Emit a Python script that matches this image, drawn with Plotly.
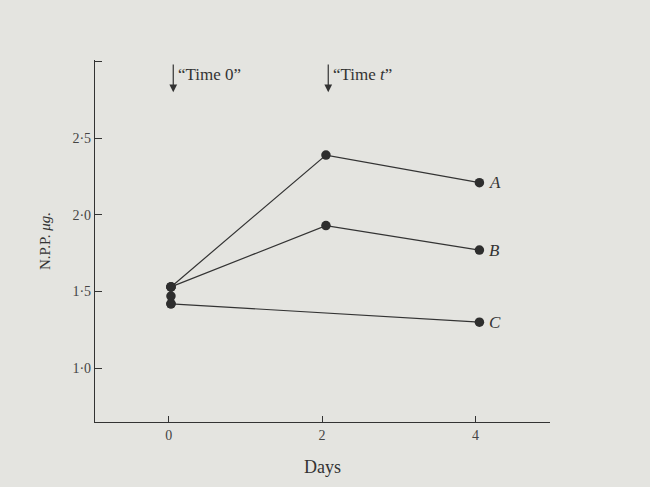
import plotly.graph_objects as go

# ---- data ----
days = [0.03, 2.05, 4.05]
series_A = [1.53, 2.39, 2.21]
series_B = [1.53, 1.93, 1.77]
days_C = [0.03, 4.05]
series_C = [1.42, 1.30]
t0_days = [0.03, 0.03, 0.03]
t0_values = [1.53, 1.47, 1.42]
labels = ["A", "B", "C"]
label_values = [2.21, 1.77, 1.30]
y_ticks = [1.0, 1.5, 2.0, 2.5, 3.0]
y_ticktext = ["1·0", "1·5", "2·0", "2·5", ""]
x_ticks = [0, 2, 4]
x_ticktext = ["0", "2", "4"]
time_marks = [0.06, 2.08]
time_texts = ["“Time 0”", "“Time <i>t</i>”"]

ink = "#333333"
paper = "#e4e4e0"
serif = "Liberation Serif, DejaVu Serif, serif"

fig = go.Figure()
line_style = dict(color=ink, width=1.2)
mk = dict(color="#2e2e2e", size=9.5)
fig.add_trace(go.Scatter(x=days, y=series_A, mode="lines+markers", line=line_style, marker=mk))
fig.add_trace(go.Scatter(x=days, y=series_B, mode="lines+markers", line=line_style, marker=mk))
fig.add_trace(go.Scatter(x=days_C, y=series_C, mode="lines+markers", line=line_style, marker=mk))
fig.add_trace(go.Scatter(x=t0_days, y=t0_values, mode="markers", marker=mk))

for lab, v in zip(labels, label_values):
    fig.add_annotation(x=days[-1], y=v, text=f"<i>{lab}</i>", showarrow=False,
                       xanchor="left", xshift=8, font=dict(family=serif, size=17, color=ink))

for xm, txt in zip(time_marks, time_texts):
    fig.add_annotation(x=xm, y=2.80, ax=xm, ay=2.99, xref="x", yref="y", axref="x", ayref="y",
                       showarrow=True, arrowhead=2, arrowsize=1.3, arrowwidth=1.2, arrowcolor=ink, text="")
    fig.add_annotation(x=xm, y=2.915, text=txt, showarrow=False, xanchor="left", xshift=3,
                       font=dict(family=serif, size=17, color=ink))

fig.update_layout(
    width=650, height=487,
    margin=dict(l=95, r=100, t=60, b=65),
    paper_bgcolor=paper, plot_bgcolor=paper,
    showlegend=False,
    font=dict(family=serif, color=ink),
    xaxis=dict(range=[-0.96, 4.97], tickvals=x_ticks, ticktext=x_ticktext,
               ticks="inside", ticklen=6, tickcolor=ink, showgrid=False, zeroline=False,
               showline=True, linecolor=ink, linewidth=1.3,
               tickfont=dict(family=serif, size=14, color="#444444"),
               title=dict(text="Days", font=dict(family=serif, size=18, color=ink), standoff=18)),
    yaxis=dict(range=[0.649, 3.01], tickvals=y_ticks, ticktext=y_ticktext,
               ticks="inside", ticklen=7, tickcolor=ink, tickwidth=1.3, showgrid=False, zeroline=False,
               showline=True, linecolor=ink, linewidth=1.3,
               tickfont=dict(family=serif, size=14, color="#444444"),
               title=dict(text="N.P.P. <i>μg.</i>", font=dict(family=serif, size=15, color=ink), standoff=18)),
)

fig.write_html("out.html")
